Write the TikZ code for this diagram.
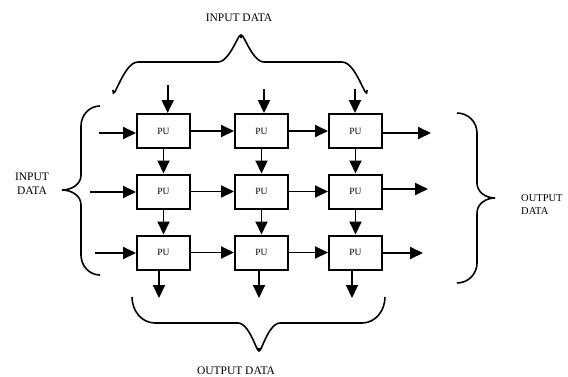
\documentclass[tikz,border=0pt]{standalone}
\usepackage{fontspec}
\setmainfont{Liberation Serif}
\usetikzlibrary{arrows.meta}
\begin{document}
\begin{tikzpicture}[x=1pt,y=-1pt,
  pu/.style={draw,line width=2pt,minimum width=53pt,minimum height=34pt,inner sep=0pt,font=\fontsize{9.5}{10}\selectfont},
  arr/.style={line width=1.9pt,-{Triangle[length=13pt,width=12pt]}},
  brace/.style={line width=1.6pt},
  lbl/.style={font=\fontsize{11.5}{14}\selectfont,align=center,inner sep=0pt}]
\useasboundingbox (0,0) rectangle (568,376);
% boxes
\foreach \c/\x in {1/163.5,2/261.5,3/355.5}{
  \foreach \r/\y in {1/131,2/191.5,3/252.5}{
    \node[pu] (b\r\c) at (\x,\y) {PU};
  }
}
% top inputs
\coordinate (t1) at (167.7,85);
\coordinate (t2) at (264,89);
\coordinate (t3) at (355,89);
\draw[arr] (t1) -- (t1 |- b11.north);
\draw[arr] (t2) -- (t2 |- b12.north);
\draw[arr] (t3) -- (t3 |- b13.north);
% left inputs
\coordinate (l1) at (99,133);
\coordinate (l2) at (90,192);
\coordinate (l3) at (95,253);
\draw[arr] (l1) -- (l1 -| b11.west);
\draw[arr] (l2) -- (l2 -| b21.west);
\draw[arr] (l3) -- (l3 -| b31.west);
% horizontal between
\foreach \r in {1,2,3}{
  \draw[arr] (b\r1) -- (b\r2);
  \draw[arr] (b\r2) -- (b\r3);
}
% vertical between
\foreach \c in {1,2,3}{
  \draw[arr] (b1\c) -- (b2\c);
  \draw[arr] (b2\c) -- (b3\c);
}
% right outputs
\coordinate (r1) at (431,133);
\coordinate (r2) at (428,189);
\coordinate (r3) at (423,253);
\draw[arr] (r1 -| b13.east) -- (r1);
\draw[arr] (r2 -| b23.east) -- (r2);
\draw[arr] (r3 -| b33.east) -- (r3);
% bottom outputs
\coordinate (o1) at (159,298);
\coordinate (o2) at (259,298);
\coordinate (o3) at (352,298);
\draw[arr] (o1 |- b31.south) -- (o1);
\draw[arr] (o2 |- b32.south) -- (o2);
\draw[arr] (o3 |- b33.south) -- (o3);
% braces
\draw[brace] (113,90) to[out=-90,in=180] (138,62) -- (218,62) to[out=0,in=90] (241,38)
  to[out=90,in=180] (264,62) -- (342,62) to[out=0,in=-90] (367,90);
\draw[brace] (100,106) to[out=180,in=90] (81,126) -- (81,175) to[out=-90,in=0] (62,190)
  to[out=0,in=90] (81,205) -- (81,255) to[out=-90,in=180] (100,275);
\draw[brace] (457,113) to[out=0,in=90] (477,133) -- (477,183) to[out=-90,in=180] (495,198)
  to[out=180,in=90] (477,213) -- (477,263) to[out=-90,in=0] (457,283);
\draw[brace] (132,297) to[out=-90,in=180] (155,323) -- (238,323) to[out=0,in=-90] (259,348)
  to[out=-90,in=180] (280,323) -- (362,323) to[out=0,in=-90] (385,297);
% labels
\node[lbl] (tin) at (239,18) {INPUT DATA};
\node[lbl] (bout) at (236,371) {OUTPUT DATA};
\node[lbl] (lin) at (32,184) {INPUT\\DATA};
\node[lbl,align=left,anchor=west,font=\fontsize{10.5}{13}\selectfont] (rout) at (521,204.5) {OUTPUT\\DATA};
\end{tikzpicture}
\end{document}
